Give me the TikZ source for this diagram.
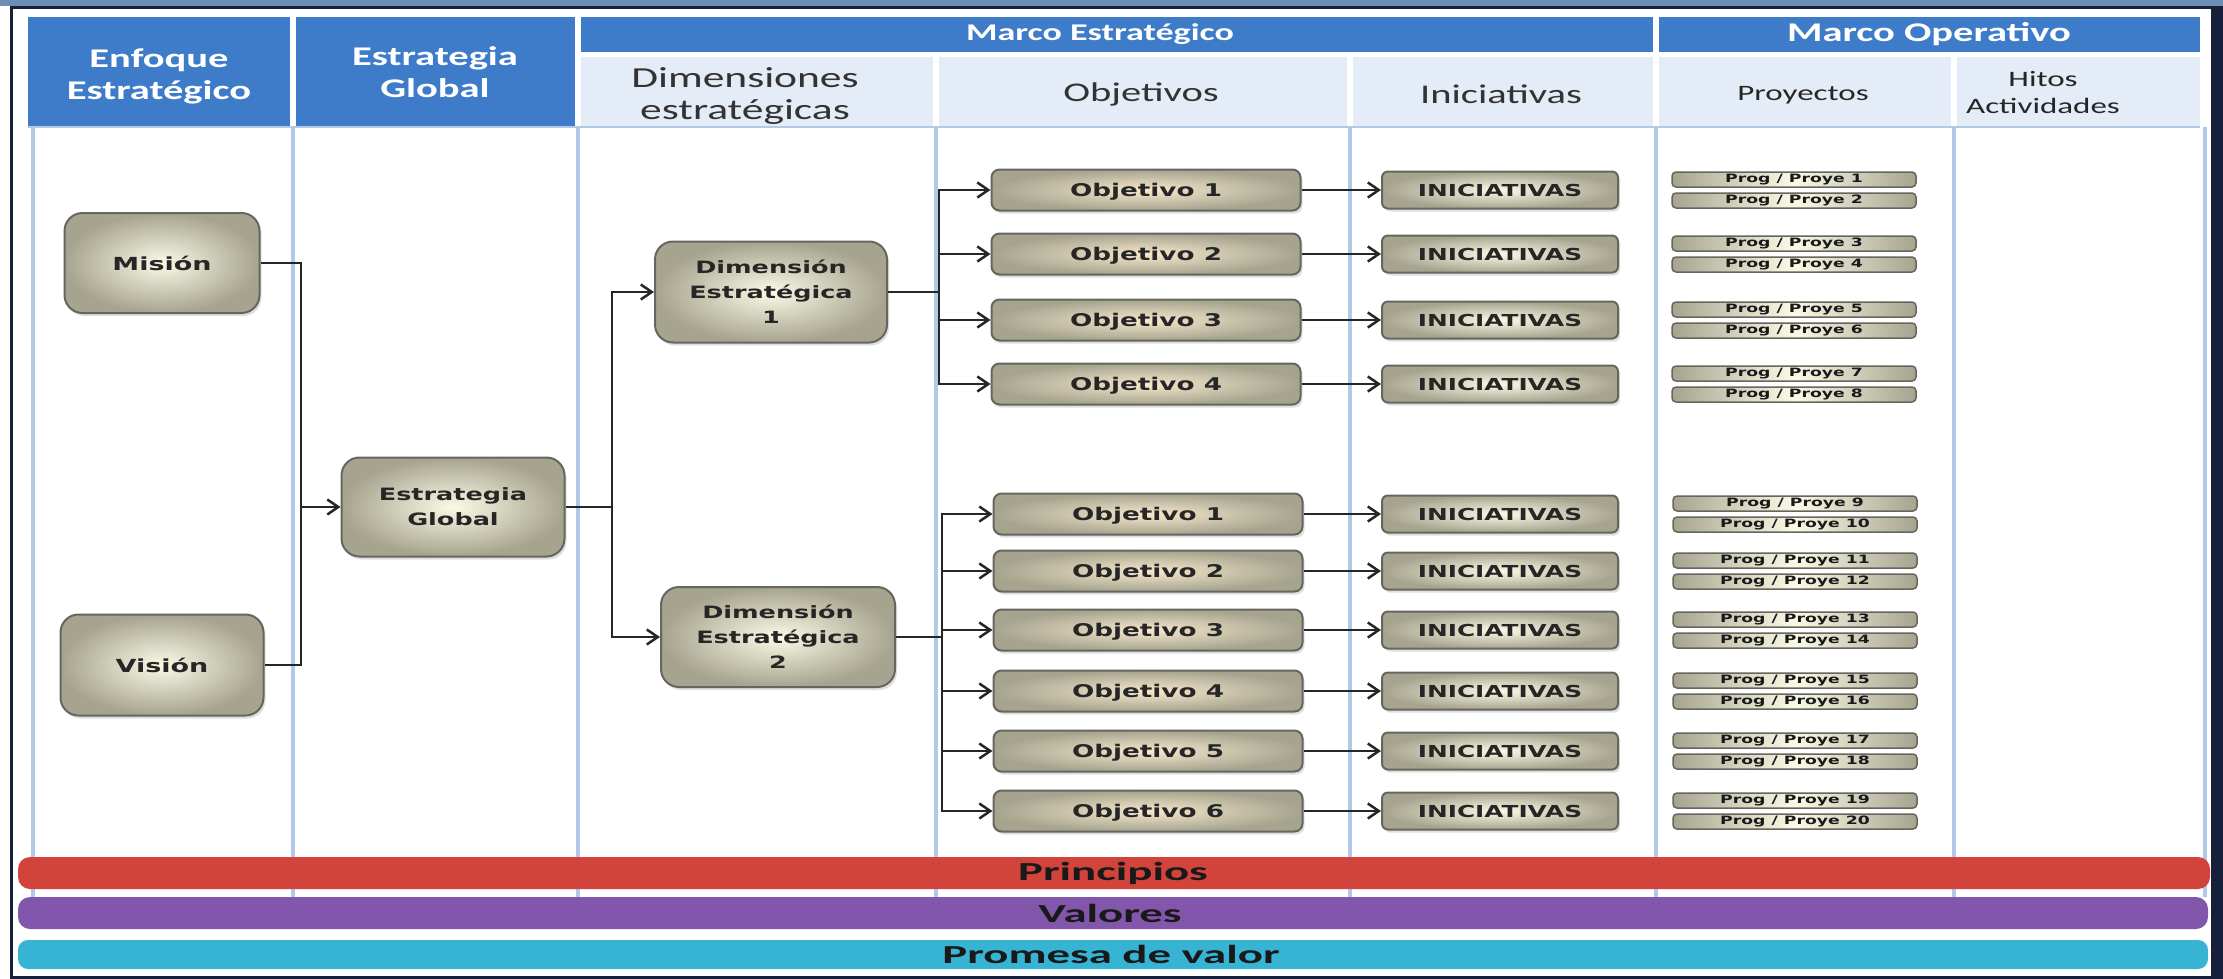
\documentclass[tikz,border=0pt]{standalone}
\usepackage{fontspec}
\setmainfont{Carlito}[FakeStretch=1.5]
\newfontfamily\boxfont{DejaVu Sans}[FakeStretch=1.5]
\newfontfamily\barfont{Carlito}[FakeStretch=1.8]
\usetikzlibrary{arrows.meta,shadows}

\definecolor{hblue}{HTML}{3E7CC9}
\definecolor{hlight}{HTML}{E4ECF7}
\definecolor{colline}{HTML}{B3C9E8}
\definecolor{boxin}{HTML}{FBFAE6}
\definecolor{boxout}{HTML}{A6A48F}
\definecolor{objin}{HTML}{F6E8CC}
\definecolor{boxedge}{HTML}{66665F}
\definecolor{barred}{HTML}{D2443B}
\definecolor{barpurple}{HTML}{8256AB}
\definecolor{barteal}{HTML}{37B3D3}
\definecolor{framenavy}{HTML}{16203A}
\definecolor{framesteel}{HTML}{6E8DB5}

\tikzset{
  conn/.style={draw=black!85,line width=2.5pt},
  htext/.style={text=white,align=center,font=\bfseries\fontsize{27}{32}\selectfont},
  subtext/.style={text=black!80,align=center,font=\fontsize{27}{31}\selectfont},
  optext/.style={text=black!85,align=center,font=\fontsize{22}{27}\selectfont},
  bigbox/.style={draw=boxedge,line width=2pt,rounded corners=18pt,inner color=boxin,outer color=boxout,
    align=center,text=black!85,font=\boxfont\bfseries\fontsize{17}{25}\selectfont,
    drop shadow={shadow xshift=2pt,shadow yshift=-3pt,opacity=0.25}},
  objbox/.style={draw=boxedge,line width=2pt,rounded corners=8pt,inner color=objin,outer color=boxout,
    minimum width=309pt,minimum height=41pt,text depth=1pt,text=black!85,font=\boxfont\bfseries\fontsize{17.5}{20}\selectfont,
    drop shadow={shadow xshift=2pt,shadow yshift=-3pt,opacity=0.25}},
  inibox/.style={draw=boxedge,line width=2pt,rounded corners=6pt,inner color=boxin,outer color=boxout,
    minimum width=236pt,minimum height=37pt,text=black!85,font=\boxfont\bfseries\fontsize{16.5}{20}\selectfont,
    drop shadow={shadow xshift=2pt,shadow yshift=-3pt,opacity=0.25}},
  proybox/.style={draw=boxedge,line width=1.5pt,rounded corners=4pt,left color=boxout,right color=boxout,middle color=boxin,
    minimum width=244pt,minimum height=15pt,inner sep=0pt,text=black!90,font=\boxfont\bfseries\fontsize{11.5}{12}\selectfont},
  bartext/.style={text=black!90,font=\barfont\bfseries\fontsize{26}{30}\selectfont}
}

\begin{document}
\begin{tikzpicture}[x=1pt,y=-1pt,>={Straight Barb[length=11pt,width=15pt]}]
\useasboundingbox (0,0) rectangle (2223,979);

\fill[white] (0,0) rectangle (2223,979);
\fill[framesteel] (0,0) rectangle (2223,6);
\fill[framenavy] (2211,6) rectangle (2223,979);
\draw[framenavy,line width=3pt] (11.5,7.5) rectangle (2212,977.5);

\foreach \x in {33,293,578,936,1350,1656,1954,2205}
    \draw[colline,line width=4pt] (\x,127) -- (\x,897);

\fill[hblue] (28,17) rectangle (290,127);
\fill[hblue] (296,17) rectangle (575,127);
\fill[hblue] (581,17) rectangle (1653,52);
\fill[hblue] (1659,17) rectangle (2200,52);
\foreach \xa/\xb in {581/933,939/1347,1353/1653,1659/1951,1957/2200}
    \fill[hlight] (\xa,57) rectangle (\xb,127);
\draw[colline,line width=2pt] (28,127) -- (2200,127);

\node[htext] (enfoque) at (159,76) {Enfoque\\Estratégico};
\node[htext] (estglobal) at (435,72) {Estrategia\\Global};
\node[htext,font=\bfseries\fontsize{24}{28}\selectfont] (mestrat) at (1100,34) {Marco Estratégico};
\node[htext] (moper) at (1929,34) {Marco Operativo};
\node[subtext,font=\fontsize{29}{32}\selectfont] (hdim) at (745,96) {Dimensiones\\estratégicas};
\node[subtext] (hobj) at (1141,94) {Objetivos};
\node[subtext] (hini) at (1501,94) {Iniciativas};
\node[optext] (hproy) at (1803,95) {Proyectos};
\node[optext] (hhitos) at (2043,93) {Hitos\\Actividades};

\fill[barred,rounded corners=12pt] (18,857) rectangle (2210,889);
\fill[barpurple,rounded corners=12pt] (18,897) rectangle (2208,929);
\fill[barteal,rounded corners=10pt] (18,940) rectangle (2208,969);
\node[bartext] (principios) at (1113,873) {Principios};
\node[bartext] (valores) at (1110,913) {Valores};
\node[bartext] (promesa) at (1111,954) {Promesa de valor};

\node[bigbox,font=\boxfont\bfseries\fontsize{18}{25}\selectfont,minimum width=195pt,minimum height=100pt] (mision) at (162,263) {Misión};
\node[bigbox,font=\boxfont\bfseries\fontsize{18}{25}\selectfont,minimum width=203pt,minimum height=101pt] (vision) at (162,665) {Visión};
\node[bigbox,minimum width=223pt,minimum height=99pt] (eg) at (453,507) {Estrategia\\Global};
\node[bigbox,minimum width=232pt,minimum height=101pt] (dim1) at (771,292) {Dimensión\\Estratégica\\1};
\node[bigbox,minimum width=234pt,minimum height=100pt] (dim2) at (778,637) {Dimensión\\Estratégica\\2};

\coordinate (ja) at (301,507);
\coordinate (jb) at (612,507);
\coordinate (ta) at (939,292);
\coordinate (tb) at (942,637);

\draw[conn] (mision.east) -| (ja);
\draw[conn] (vision.east) -| (ja);
\draw[conn,->] (ja) -- (eg.west);
\draw[conn] (eg.east) -- (jb);
\draw[conn,->] (jb) |- (dim1.west);
\draw[conn,->] (jb) |- (dim2.west);
\draw[conn] (dim1.east) -- (ta);
\draw[conn] (dim2.east) -- (tb);

\foreach \i/\y in {1/190,2/254,3/320,4/384}
{
    \pgfmathtruncatemacro\pa{2*\i-1}
    \pgfmathtruncatemacro\pb{2*\i}
    \node[objbox] (oa\i) at (1146,\y) {Objetivo \i};
    \node[inibox] (ia\i) at (1500,\y) {INICIATIVAS};
    \node[proybox] (p\pa) at (1794,\y-10.5) {Prog / Proye \pa};
    \node[proybox] (p\pb) at (1794,\y+10.5) {Prog / Proye \pb};
    \draw[conn,->] (ta) |- (oa\i.west);
    \draw[conn,->] (oa\i.east) -- (ia\i.west);
}

\foreach \i/\y in {1/514,2/571,3/630,4/691,5/751,6/811}
{
    \pgfmathtruncatemacro\pa{8+2*\i-1}
    \pgfmathtruncatemacro\pb{8+2*\i}
    \node[objbox] (ob\i) at (1148,\y) {Objetivo \i};
    \node[inibox] (ib\i) at (1500,\y) {INICIATIVAS};
    \node[proybox] (p\pa) at (1795,\y-10.5) {Prog / Proye \pa};
    \node[proybox] (p\pb) at (1795,\y+10.5) {Prog / Proye \pb};
    \draw[conn,->] (tb) |- (ob\i.west);
    \draw[conn,->] (ob\i.east) -- (ib\i.west);
}

\end{tikzpicture}
\end{document}
